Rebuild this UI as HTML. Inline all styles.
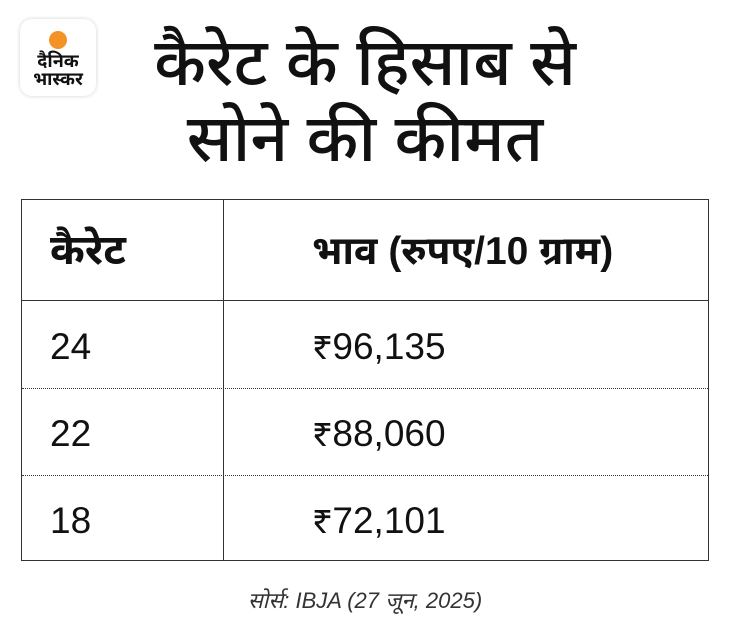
<!DOCTYPE html>
<html><head><meta charset="utf-8"><style>
body{margin:0;width:730px;height:638px;background:#fff;position:relative;font-family:"Liberation Sans","Noto Sans Devanagari","Lohit Devanagari",sans-serif;color:#111;overflow:hidden}
.logo{position:absolute;left:20px;top:19px;width:76px;height:77px;border-radius:12px;background:#fff;box-shadow:0 0 4px rgba(0,0,0,.18)}
.dot{position:absolute;left:29px;top:12px;width:18px;height:18px;border-radius:50%;background:#f39325}
.lt{position:absolute;left:0;width:76px;text-align:center;font-weight:bold;font-size:18px;line-height:19px}
.title{position:absolute;left:60px;width:610px;text-align:center;font-size:66px;line-height:76px;top:24px;font-weight:500}
.tb{position:absolute;left:21px;top:199px;width:688px;height:362px;border:1.5px solid #333;box-sizing:border-box}
.v{position:absolute;left:201px;top:0;bottom:0;border-left:1.5px solid #333}
.h{position:absolute;left:0;right:0;border-top:1.5px solid #333}
.d{position:absolute;left:0;right:0;border-top:1.5px dotted #333}
.c{position:absolute;font-size:37px;line-height:40px}
.src{position:absolute;left:0;width:730px;top:588px;text-align:center;font-style:italic;font-size:22px;color:#333}
</style></head><body>
<div class="logo"><div class="dot"></div><div class="lt" style="top:33px">दैनिक</div><div class="lt" style="top:51px">भास्कर</div></div>
<div class="title">कैरेट के हिसाब से<br>सोने की कीमत</div>
<div class="tb">
<div class="v"></div>
<div class="h" style="top:100px"></div>
<div class="d" style="top:188px"></div>
<div class="d" style="top:275px"></div>
<div class="c" style="left:28px;top:30px;font-weight:bold;font-size:42px">कैरेट</div>
<div class="c" style="left:290px;top:32px;font-weight:bold;font-size:39px">भाव (रुपए/10 ग्राम)</div>
<div class="c" style="left:28px;top:127px">24</div>
<div class="c" style="left:290px;top:127px">₹96,135</div>
<div class="c" style="left:28px;top:214px">22</div>
<div class="c" style="left:290px;top:214px">₹88,060</div>
<div class="c" style="left:28px;top:301px">18</div>
<div class="c" style="left:290px;top:301px">₹72,101</div>
</div>
<div class="src">सोर्स: IBJA (27 जून, 2025)</div>
</body></html>
